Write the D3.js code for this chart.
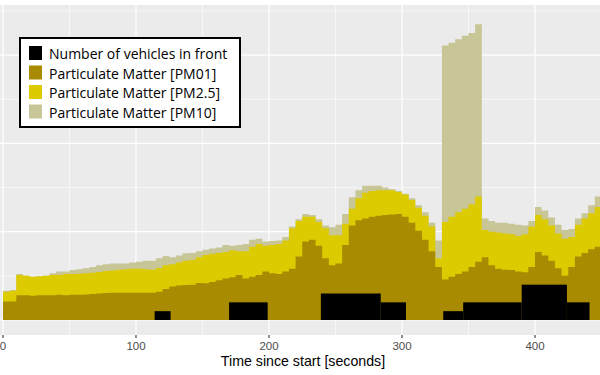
<!DOCTYPE html>
<html>
<head>
<meta charset="utf-8">
<script src="https://cdn.jsdelivr.net/npm/d3@7"></script>
<style>
  body { margin: 0; background: #fff; }
  svg { display: block; }
</style>
</head>
<body>
<svg width="600" height="375"></svg>
<script>
// time (s) at which each 5-second sample starts
var times = d3.range(0, 455, 5);

var pm01 = [2.1, 2.1, 2.8, 2.8, 2.75, 2.8, 2.8, 2.8, 2.85, 2.8, 2.85, 2.85, 2.9, 2.95, 3.0, 3.05, 3.1, 3.1, 3.1, 3.1,
  3.1, 3.1, 3.1, 3.2, 3.5, 3.8, 3.9, 3.95, 4.0, 4.2, 4.15, 4.3, 4.5, 4.7, 4.85, 5.1, 4.7, 4.9, 5.1, 5.5,
  5.3, 5.2, 5.5, 5.8, 7.2, 8.9, 9.1, 8.4, 7.0, 6.2, 6.4, 8.5, 10.7, 11.3, 11.5, 11.7, 11.8, 11.9, 11.95, 12.0,
  11.7, 11.0, 10.1, 9.1, 7.8, 6.0, 4.6, 4.9, 5.2, 5.5, 6.0, 6.6, 7.1, 6.2, 5.8, 5.7, 5.66, 5.5, 5.4, 6.0,
  7.7, 7.3, 6.7, 5.85, 5.0, 6.0, 7.2, 7.6, 8.0, 8.3, 8.4];

var pm25 = [3.2, 3.3, 5.1, 5.0, 4.9, 4.95, 5.0, 5.1, 5.1, 5.2, 5.2, 5.25, 5.3, 5.35, 5.45, 5.55, 5.6, 5.7, 5.75, 5.8,
  5.8, 5.75, 5.7, 5.9, 6.2, 6.3, 6.5, 6.7, 6.8, 7.1, 7.35, 7.5, 7.6, 7.7, 7.9, 7.8, 7.8, 8.3, 8.6, 8.4,
  8.5, 8.6, 9.0, 10.4, 11.2, 11.7, 11.7, 11.1, 10.4, 9.6, 9.6, 10.9, 12.6, 13.8, 14.4, 14.6, 14.7, 14.7, 14.7, 14.5,
  14.2, 13.6, 12.7, 11.8, 10.6, 7.0, 11.1, 11.7, 12.2, 12.6, 13.1, 14.0, 10.2, 10.0, 9.9, 9.8, 9.7, 9.5, 9.7, 10.6,
  11.9, 11.4, 10.7, 9.8, 9.2, 9.4, 10.8, 11.5, 12.1, 12.8, 13.2];

var pm10 = [3.3, 3.4, 5.2, 5.0, 4.9, 4.95, 5.0, 5.3, 5.5, 5.5, 5.65, 5.75, 5.85, 6.0, 6.2, 6.3, 6.4, 6.4, 6.4, 6.5,
  6.6, 6.7, 6.7, 7.0, 7.25, 7.1, 7.3, 7.55, 7.6, 7.8, 7.95, 8.1, 8.2, 8.5, 8.4, 8.5, 8.6, 9.1, 9.2, 8.9,
  8.95, 9.0, 9.4, 10.6, 11.4, 12.0, 11.9, 11.4, 10.7, 10.5, 10.8, 12.0, 13.9, 14.7, 15.2, 15.2, 15.2, 15.0, 14.8, 14.6,
  14.3, 13.8, 13.0, 12.2, 11.0, 9.0, 31.1, 31.4, 31.8, 32.2, 32.5, 33.5, 11.5, 11.2, 11.0, 11.0, 10.9, 10.8, 10.7, 11.2,
  12.8, 12.4, 11.6, 10.8, 10.2, 10.3, 11.5, 12.1, 13.0, 14.0, 14.7];

// vehicles in front: start, end (s) and count
var vehStart = [114, 170, 239, 284, 331, 346, 390, 424];
var vehEnd   = [126, 199, 284, 303, 346, 390, 424, 441];
var vehCount = [1, 2, 3, 2, 1, 2, 4, 2];

var xTicks = [0, 100, 200, 300, 400];
var legendLabels = ["Number of vehicles in front", "Particulate Matter [PM01]",
  "Particulate Matter [PM2.5]", "Particulate Matter [PM10]"];
var colors = ["#000000", "#a88b00", "#dccb00", "#c8c596"];

var svg = d3.select("svg");
var panel = {left: 0, right: 600, top: 5, bottom: 335};

var x = d3.scaleLinear().domain([0, 400]).range([3, 535]);
var y = d3.scaleLinear().domain([0, 10]).range([320, 231.7]);

svg.append("clipPath").attr("id", "clip")
  .append("rect")
  .attr("x", panel.left).attr("y", panel.top)
  .attr("width", panel.right - panel.left).attr("height", panel.bottom - panel.top);

svg.append("rect")
  .attr("x", panel.left).attr("y", panel.top)
  .attr("width", panel.right - panel.left).attr("height", panel.bottom - panel.top)
  .attr("fill", "#ebebeb");

var grid = svg.append("g").attr("clip-path", "url(#clip)");

// minor grid
grid.selectAll("line.minx").data(d3.range(50, 500, 100)).enter().append("line")
  .attr("x1", x).attr("x2", x).attr("y1", panel.top).attr("y2", panel.bottom)
  .attr("stroke", "#fff").attr("stroke-width", 0.6);
grid.selectAll("line.miny").data(d3.range(5, 40, 10)).enter().append("line")
  .attr("y1", y).attr("y2", y).attr("x1", panel.left).attr("x2", panel.right)
  .attr("stroke", "#fff").attr("stroke-width", 0.6);
// major grid
grid.selectAll("line.majx").data(xTicks).enter().append("line")
  .attr("x1", x).attr("x2", x).attr("y1", panel.top).attr("y2", panel.bottom)
  .attr("stroke", "#fff").attr("stroke-width", 1.2);
grid.selectAll("line.majy").data(d3.range(0, 40, 10)).enter().append("line")
  .attr("y1", y).attr("y2", y).attr("x1", panel.left).attr("x2", panel.right)
  .attr("stroke", "#fff").attr("stroke-width", 1.2);

function series(vals) {
  var pts = times.map(function(t, i) { return {t: t, v: vals[i]}; });
  pts.push({t: 455, v: vals[vals.length - 1]});
  return pts;
}

var area = d3.area()
  .curve(d3.curveStepAfter)
  .x(function(d) { return x(d.t); })
  .y0(y(0))
  .y1(function(d) { return y(d.v); });

var marks = svg.append("g").attr("clip-path", "url(#clip)");
[pm10, pm25, pm01].forEach(function(vals, i) {
  marks.append("path")
    .attr("d", area(series(vals)))
    .attr("fill", colors[3 - i]);
});

marks.selectAll("rect.veh").data(vehCount).enter().append("rect")
  .attr("x", function(d, i) { return x(vehStart[i]); })
  .attr("width", function(d, i) { return x(vehEnd[i]) - x(vehStart[i]); })
  .attr("y", function(d) { return y(d); })
  .attr("height", function(d) { return y(0) - y(d); })
  .attr("fill", colors[0]);

// x axis
var xAxis = svg.append("g").attr("transform", "translate(0," + panel.bottom + ")");
xAxis.selectAll("line").data(xTicks).enter().append("line")
  .attr("x1", x).attr("x2", x).attr("y1", 0).attr("y2", 3)
  .attr("stroke", "#333").attr("stroke-width", 1.1);
xAxis.selectAll("text").data(xTicks).enter().append("text")
  .attr("x", x).attr("y", 14.5)
  .attr("text-anchor", "middle")
  .attr("font-family", "'Liberation Sans', Arial, sans-serif").attr("font-size", 11.5)
  .attr("fill", "#4d4d4d")
  .text(function(d) { return d; });

svg.append("text")
  .attr("x", 303).attr("y", 366)
  .attr("text-anchor", "middle")
  .attr("font-family", "'Liberation Sans', Arial, sans-serif").attr("font-size", 14.2)
  .attr("fill", "#000")
  .text("Time since start [seconds]");

// legend
var legend = svg.append("g").attr("transform", "translate(20,38)");
legend.append("rect")
  .attr("width", 220).attr("height", 89)
  .attr("fill", "#fff").attr("stroke", "#000").attr("stroke-width", 2);
var item = legend.selectAll("g.item").data(legendLabels).enter().append("g")
  .attr("transform", function(d, i) { return "translate(9," + (8 + i * 19.5) + ")"; });
item.append("rect")
  .attr("width", 13).attr("height", 14)
  .attr("fill", function(d, i) { return colors[i]; });
item.append("text")
  .attr("x", 20).attr("y", 13)
  .attr("font-family", "'Open Sans', sans-serif").attr("font-size", 14)
  .attr("fill", "#000")
  .text(function(d) { return d; });
</script>
</body>
</html>
